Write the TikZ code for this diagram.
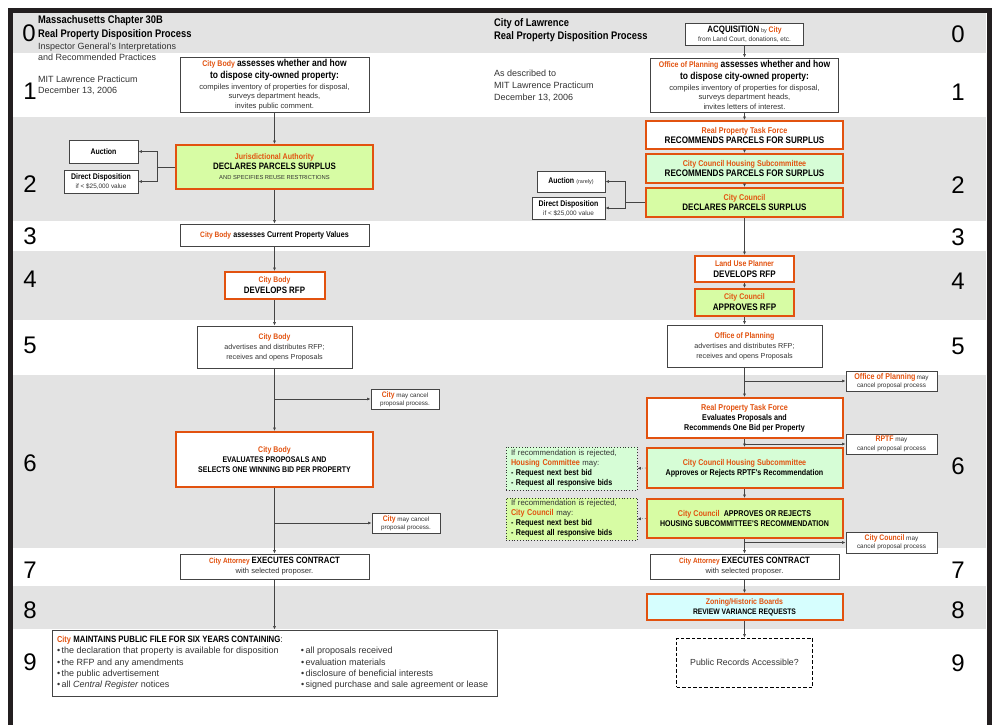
\documentclass[tikz,border=0pt]{standalone}
\usepackage{fontspec}
\setmainfont{Liberation Sans}
\newfontfamily\cond[FakeStretch=0.85]{Liberation Sans}
\usetikzlibrary{arrows.meta}
\definecolor{orng}{HTML}{E2520F}
\definecolor{band}{HTML}{E3E3E3}
\definecolor{ygreen}{HTML}{D7FCA4}
\definecolor{lgreen}{HTML}{D6FDD6}
\definecolor{lcyan}{HTML}{D6FEFE}
\definecolor{txt}{HTML}{333333}
\definecolor{lineg}{HTML}{444444}
\definecolor{framec}{HTML}{231F20}
\newcommand\fs[2]{\fontsize{#1}{#2}\selectfont}
\newcommand\og[2][8.2]{{\cond\bfseries\fontsize{#1}{#1}\selectfont\color{orng}#2}}
\newcommand\hb[2][8.4]{{\cond\bfseries\fontsize{#1}{#1}\selectfont\color{black}#2}}
\newcommand\sm[2][6.4]{{\fontsize{#1}{#1}\selectfont\color{txt}#2}}
\tikzset{
  box/.style={draw=lineg, line width=0.9pt, fill=white, inner sep=0pt, align=center, font=\fs{7.6}{10}\color{txt}},
  obox/.style={box, draw=orng, line width=2pt},
  sz/.style 2 args={minimum width=#1pt, minimum height=#2pt},
  arr/.style={draw=lineg, line width=0.6pt, -{Latex[length=3.5pt,width=3pt]}},
  conn/.style={draw=lineg, line width=0.6pt},
  num/.style={inner sep=0pt, font=\fs{24}{24}},
  hdr/.style={inner sep=0pt, align=left, anchor=north west},
  dotbox/.style={draw=black!80, dotted, line width=0.8pt, inner sep=0pt, align=left, text width=121pt, font=\fs{7.8}{10}\color{txt}},
}
\begin{document}
\begin{tikzpicture}[x=1pt,y=-1pt]
\useasboundingbox (0,0) rectangle (995,724);
\fill[white] (0,0) rectangle (995,724);
% bands
\fill[band] (13,13) rectangle (986,53);
\fill[band] (13,117) rectangle (986,221);
\fill[band] (13,251) rectangle (986,320);
\fill[band] (13,375) rectangle (986,548);
\fill[band] (13,586) rectangle (986,629);
% frame
\draw[framec, line width=5pt] (10.5,760) -- (10.5,10.5) -- (989,10.5) -- (989,760);

% row numbers
\node[num] (nl0) at (29,33) {0};
\foreach \n/\y in {1/91,2/184,3/236,4/279,5/345,6/463,7/570,8/610,9/662}
  \node[num] (nl\n) at (30,\y) {\n};
\foreach \n/\y in {0/34,1/92,2/185,3/237,4/281,5/346,6/466,7/570,8/610,9/663}
  \node[num] (nr\n) at (958,\y) {\n};

% headers
\node[hdr, font=\fs{9}{11.5}\color{txt}] (hL) at (38,15) {\hb[11]{Massachusetts Chapter 30B}\\[2.5pt]
  \hb[11]{Real Property Disposition Process}\\[0.5pt]
  Inspector General's Interpretations\\ and Recommended Practices};
\node[hdr, font=\fs{9}{11}\color{txt}] (dL) at (38,75.5) {MIT Lawrence Practicum\\ December 13, 2006};
\node[hdr, font=\fs{9}{11}\color{txt}] (hR) at (494,18) {\hb[11]{City of Lawrence}\\[2pt]
  \hb[11]{Real Property Disposition Process}};
\node[hdr, font=\fs{9}{12}\color{txt}] (dR) at (494,69.5) {As described to\\ MIT Lawrence Practicum\\ December 13, 2006};

% ---------------- left column
\node[box, sz={189}{55}, font=\fs{7.6}{9.6}\color{txt}] (L1) at (274.5,84.5)
  {\og{City Body} \hb[10]{assesses whether and how}\\[2.4pt]
   \hb[10]{to dispose city-owned property:}\\[1pt]
   compiles inventory of properties for disposal,\\ surveys department heads,\\ invites public comment.};
\node[obox, fill=ygreen, sz={197}{44}] (L2) at (274.5,167)
  {\og[8.3]{Jurisdictional Authority}\\ \hb[9.3]{DECLARES PARCELS SURPLUS}\\ \sm[5.8]{AND SPECIFIES REUSE RESTRICTIONS}};
\node[box, sz={69}{23}] (LA) at (103.5,151.5) {\hb[8.2]{Auction}};
\node[box, sz={74}{23}, font=\fs{7}{9}\color{txt}] (LD) at (101,181.5)
  {\hb[8.2]{Direct Disposition}\\ \sm[6.4]{if < \$25,000 value}};
\node[box, sz={189}{22}] (L3) at (274.5,235) {\og[7.8]{City Body} \hb[8.4]{assesses Current Property Values}};
\node[obox, sz={100}{27}, font=\fs{7.6}{11}\color{txt}] (L4) at (274.5,285.5)
  {\og[8]{City Body}\\ \hb[9.3]{DEVELOPS RFP}};
\node[box, sz={155}{42}, font=\fs{7.2}{10}\color{txt}] (L5) at (274.5,347)
  {\og[8]{City Body}\\ advertises and distributes RFP;\\ receives and opens Proposals};
\node[box, sz={68}{20}, font=\fs{6.3}{8.5}\color{txt}] (LC1) at (405,399)
  {\og[8]{City} may cancel\\ proposal process.};
\node[obox, sz={197}{55}] (L6) at (274.5,459.5)
  {\og[8.2]{City Body}\\ \hb[8.2]{EVALUATES PROPOSALS AND}\\ \hb[8.2]{SELECTS ONE WINNING BID PER PROPERTY}};
\node[box, sz={68}{20}, font=\fs{6.3}{8.5}\color{txt}] (LC2) at (406,523)
  {\og[8]{City} may cancel\\ proposal process.};
\node[box, sz={189}{25}] (L7) at (274.5,566.5)
  {\og[7.6]{City Attorney}\ \hb[9.2]{EXECUTES CONTRACT}\\ with selected proposer.};
\node[box, sz={445}{66}, align=left, font=\fs{9}{11.3}\color{txt}] (L9) at (274.5,663)
  {\begin{tabular}{@{\hspace{5pt}}p{244pt}@{}p{196pt}@{}}
   \multicolumn{2}{@{\hspace{5pt}}l@{}}{\og[8.7]{City} \hb[9.2]{MAINTAINS PUBLIC FILE FOR SIX YEARS CONTAINING}:}\\
   \textbullet\,the declaration that property is available for disposition & \textbullet\,all proposals received\\
   \textbullet\,the RFP and any amendments & \textbullet\,evaluation materials\\
   \textbullet\,the public advertisement & \textbullet\,disclosure of beneficial interests\\
   \textbullet\,all \textit{Central Register} notices & \textbullet\,signed purchase and sale agreement or lease
   \end{tabular}};

% ---------------- right column
\node[box, sz={118}{22}, font=\fs{6.5}{9}\color{txt}] (R0) at (744.5,34)
  {\hb[9.3]{ACQUISITION} \sm[5.5]{by} \og[8]{City}\\ from Land Court, donations, etc.};
\node[box, sz={188}{54}, font=\fs{7.6}{9.6}\color{txt}] (R1) at (744.5,85)
  {\og{Office of Planning} \hb[10]{assesses whether and how}\\[2.4pt]
   \hb[10]{to dispose city-owned property:}\\[1pt]
   compiles inventory of properties for disposal,\\ surveys department heads,\\ invites letters of interest.};
\node[obox, sz={197}{28}] (R2a) at (744.5,135)
  {\og[8.4]{Real Property Task Force}\\ \hb[9.5]{RECOMMENDS PARCELS FOR SURPLUS}};
\node[obox, fill=lgreen, sz={197}{29}] (R2b) at (744.5,168.5)
  {\og[8.4]{City Council Housing Subcommittee}\\ \hb[9.5]{RECOMMENDS PARCELS FOR SURPLUS}};
\node[obox, fill=ygreen, sz={197}{29}] (R2c) at (744.5,202.5)
  {\og[8.4]{City Council}\\ \hb[9.4]{DECLARES PARCELS SURPLUS}};
\node[box, sz={68}{21}] (RA) at (571,181.5) {\hb[8.2]{Auction} \sm[5.5]{(rarely)}};
\node[box, sz={73}{22}, font=\fs{7}{9}\color{txt}] (RD) at (568.5,208)
  {\hb[8.2]{Direct Disposition}\\ \sm[6.4]{if < \$25,000 value}};
\node[obox, sz={99}{26}, font=\fs{7.6}{11}\color{txt}] (R4a) at (744.5,269)
  {\og[8.2]{Land Use Planner}\\ \hb[9.5]{DEVELOPS RFP}};
\node[obox, fill=ygreen, sz={99}{27}, font=\fs{7.6}{11}\color{txt}] (R4b) at (744.5,302.5)
  {\og[8.2]{City Council}\\ \hb[9.5]{APPROVES RFP}};
\node[box, sz={155}{42}, font=\fs{7.2}{10}\color{txt}] (R5) at (744.5,346)
  {\og[8.2]{Office of Planning}\\ advertises and distributes RFP;\\ receives and opens Proposals};
\node[box, sz={91}{20}, font=\fs{6.4}{8.5}\color{txt}] (RC1) at (891.5,381)
  {\og[8.4]{Office of Planning}\,may\\ cancel proposal process};
\node[obox, sz={196}{40}] (R6a) at (744.5,418)
  {\og[8.5]{Real Property Task Force}\\ \hb[8.4]{Evaluates Proposals and}\\ \hb[8.4]{Recommends One Bid per Property}};
\node[box, sz={91}{20}, font=\fs{6.4}{8.5}\color{txt}] (RC2) at (891.5,444)
  {\og[8.1]{RPTF} may\\ cancel proposal process};
\node[obox, fill=lgreen, sz={196}{40}] (R6b) at (744.5,468)
  {\og[8.4]{City Council Housing Subcommittee}\\ \hb[8.4]{Approves or Rejects RPTF's Recommendation}};
\node[dotbox, fill=lgreen, sz={131}{43}] (RD1) at (571.5,468.5)
  {If recommendation is rejected,\\ \og[8.5]{Housing Committee} may:\\ \hb[8.4]{- Request next best bid}\\ \hb[8.4]{- Request all responsive bids}};
\node[obox, fill=ygreen, sz={196}{39}] (R6c) at (744.5,518.5)
  {\og[8.4]{City Council}\ \ \hb[8.4]{APPROVES OR REJECTS}\\ \hb[8.3]{HOUSING SUBCOMMITTEE'S RECOMMENDATION}};
\node[dotbox, fill=ygreen, sz={131}{42}] (RD2) at (571.5,519)
  {If recommendation is rejected,\\ \og[8.5]{City Council} may:\\ \hb[8.4]{- Request next best bid}\\ \hb[8.4]{- Request all responsive bids}};
\node[box, sz={91}{21}, font=\fs{6.4}{8.5}\color{txt}] (RC3) at (891.5,542.5)
  {\og[8]{City Council} may\\ cancel proposal process};
\node[box, sz={189}{25}] (R7) at (744.5,566.5)
  {\og[7.6]{City Attorney}\ \hb[9.2]{EXECUTES CONTRACT}\\ with selected proposer.};
\node[obox, fill=lcyan, sz={196}{26}] (R8) at (744.5,607)
  {\og[8.2]{Zoning/Historic Boards}\\ \hb[8]{REVIEW VARIANCE REQUESTS}};
\node[box, draw=black, dashed, dash pattern=on 3.5pt off 2pt, sz={136}{49}, font=\fs{8.8}{10}\color{txt}] (R9) at (744.5,662.5)
  {Public Records Accessible?};

% ---------------- connectors left
\draw[arr] (L1.south) -- (L2.north);
\draw[arr] (L2.south) -- (L3.north);
\draw[arr] (L3.south) -- (L4.north);
\draw[arr] (L4.south) -- (L5.north);
\draw[arr] (L5.south) -- (L6.north);
\draw[arr] (L5.south |- LC1.west) -- (LC1.west);
\draw[arr] (L6.south) -- (L7.north);
\draw[arr] (L6.south |- LC2.west) -- (LC2.west);
\draw[arr] (L7.south) -- (L9.north);
\draw[conn] (L2.west) -- ++(-18,0) coordinate (jL);
\draw[arr] (jL) |- (LA.east);
\draw[arr] (jL) |- (LD.east);

% ---------------- connectors right
\draw[arr] (R0.south) -- (R1.north);
\draw[arr] (R1.south) -- (R2a.north);
\draw[arr] (R2a.south) -- (R2b.north);
\draw[arr] (R2b.south) -- (R2c.north);
\draw[arr] (R2c.south) -- (R4a.north);
\draw[arr] (R4a.south) -- (R4b.north);
\draw[arr] (R4b.south) -- (R5.north);
\draw[arr] (R5.south) -- (R6a.north);
\draw[arr] (R5.south |- RC1.west) -- (RC1.west);
\draw[arr] (R6a.south) -- (R6b.north);
\draw[arr] (R6a.south |- RC2.west) -- (RC2.west);
\draw[arr] (R6b.south) -- (R6c.north);
\draw[arr] (R6c.south) -- (R7.north);
\draw[arr] (R6c.south |- RC3.west) -- (RC3.west);
\draw[arr] (R7.south) -- (R8.north);
\draw[arr] (R8.south) -- (R9.north);
\draw[conn] (R2c.west) -- ++(-20,0) coordinate (jR);
\draw[arr] (jR) |- (RA.east);
\draw[arr] (jR) |- (RD.east);
\draw[arr, dotted] (R6b.west) -- (RD1.east);
\draw[arr, dotted] (R6c.west) -- (RD2.east);
\end{tikzpicture}
\end{document}
